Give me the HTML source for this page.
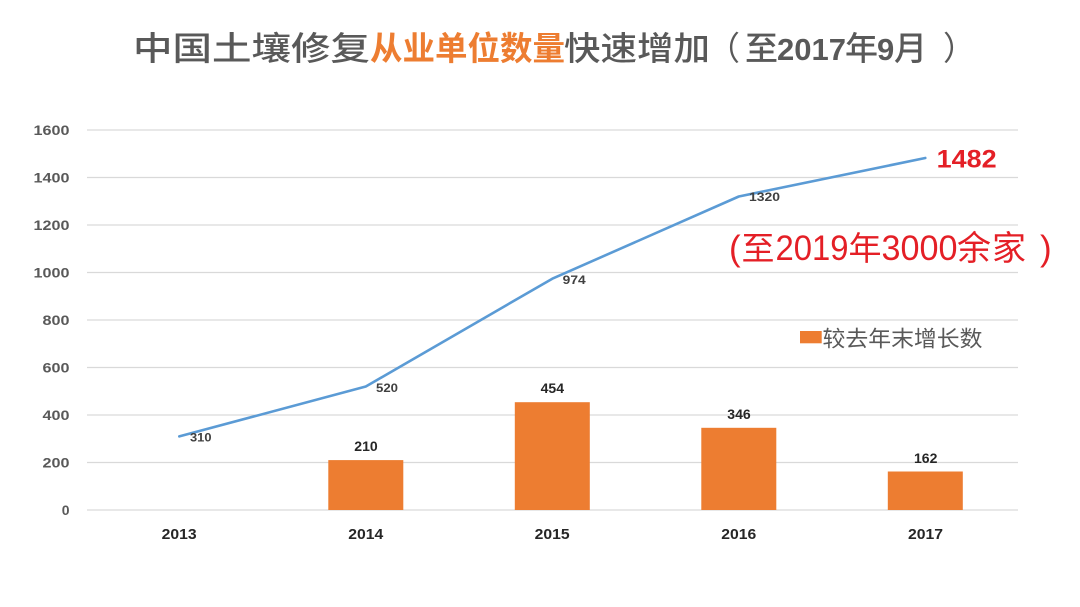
<!DOCTYPE html>
<html>
<head>
<meta charset="utf-8">
<style>
  html, body { margin: 0; padding: 0; background: #ffffff; overflow: hidden; }
  svg { display: block; }
  .cjk { font-family: "Noto Sans CJK SC", "WenQuanYi Zen Hei", sans-serif; }
  .lat { font-family: "Liberation Sans", "Noto Sans CJK SC", sans-serif; }
</style>
</head>
<body>
<svg width="1080" height="607" viewBox="0 0 1080 607" xmlns="http://www.w3.org/2000/svg">
  <rect x="0" y="0" width="1080" height="607" fill="#ffffff"/>

  <!-- Title -->
  <text class="cjk" x="133" y="60" font-size="33" font-weight="500" fill="#595959" textLength="237" lengthAdjust="spacingAndGlyphs">中国土壤修复</text>
  <text class="cjk" x="370" y="60" font-size="33" font-weight="bold" fill="#ED7D31" textLength="195" lengthAdjust="spacingAndGlyphs">从业单位数量</text>
  <text class="cjk" x="564" y="60" font-size="33" font-weight="500" fill="#595959" textLength="146" lengthAdjust="spacingAndGlyphs">快速增加</text>
  <text class="cjk" x="707" y="60" font-size="33" fill="#595959">（</text>
  <text class="cjk" x="745" y="60" font-size="33" font-weight="500" fill="#595959">至</text>
  <text class="lat" x="777" y="60" font-size="31" font-weight="bold" fill="#595959" textLength="69" lengthAdjust="spacingAndGlyphs">2017</text>
  <text class="cjk" x="845" y="60" font-size="33" font-weight="500" fill="#595959">年</text>
  <text class="lat" x="877" y="60" font-size="31" font-weight="bold" fill="#595959">9</text>
  <text class="cjk" x="894" y="60" font-size="33" font-weight="500" fill="#595959">月</text>
  <text class="cjk" x="943" y="60" font-size="33" fill="#595959">）</text>

  <!-- Gridlines -->
  <g stroke="#d9d9d9" stroke-width="1.2">
    <line x1="87" y1="130" x2="1018" y2="130"/>
    <line x1="87" y1="177.5" x2="1018" y2="177.5"/>
    <line x1="87" y1="225" x2="1018" y2="225"/>
    <line x1="87" y1="272.5" x2="1018" y2="272.5"/>
    <line x1="87" y1="320" x2="1018" y2="320"/>
    <line x1="87" y1="367.5" x2="1018" y2="367.5"/>
    <line x1="87" y1="415" x2="1018" y2="415"/>
    <line x1="87" y1="462.5" x2="1018" y2="462.5"/>
    <line x1="87" y1="510" x2="1018" y2="510"/>
  </g>

  <!-- Y axis labels -->
  <g class="lat" font-size="14" font-weight="bold" fill="#595959" text-anchor="end">
    <text x="69.5" y="135" textLength="36" lengthAdjust="spacingAndGlyphs">1600</text>
    <text x="69.5" y="182.5" textLength="36" lengthAdjust="spacingAndGlyphs">1400</text>
    <text x="69.5" y="230" textLength="36" lengthAdjust="spacingAndGlyphs">1200</text>
    <text x="69.5" y="277.5" textLength="36" lengthAdjust="spacingAndGlyphs">1000</text>
    <text x="69.5" y="325" textLength="27" lengthAdjust="spacingAndGlyphs">800</text>
    <text x="69.5" y="372.5" textLength="27" lengthAdjust="spacingAndGlyphs">600</text>
    <text x="69.5" y="420" textLength="27" lengthAdjust="spacingAndGlyphs">400</text>
    <text x="69.5" y="467.5" textLength="27" lengthAdjust="spacingAndGlyphs">200</text>
    <text x="69.5" y="515">0</text>
  </g>

  <!-- Bars -->
  <g fill="#ED7D31">
    <rect x="328.3" y="460.1" width="75" height="49.9"/>
    <rect x="514.8" y="402.2" width="75" height="107.8"/>
    <rect x="701.3" y="427.8" width="75" height="82.2"/>
    <rect x="887.8" y="471.5" width="75" height="38.5"/>
  </g>

  <!-- Bar labels -->
  <g class="lat" font-size="14" font-weight="bold" fill="#262626" text-anchor="middle">
    <text x="366" y="451" textLength="23.4" lengthAdjust="spacingAndGlyphs">210</text>
    <text x="552.3" y="393" textLength="23.4" lengthAdjust="spacingAndGlyphs">454</text>
    <text x="739" y="419" textLength="23.4" lengthAdjust="spacingAndGlyphs">346</text>
    <text x="925.7" y="463" textLength="23.4" lengthAdjust="spacingAndGlyphs">162</text>
  </g>

  <!-- Line -->
  <polyline points="179.3,436.4 365.8,386.5 552.3,278.7 738.8,196.5 925.3,158" fill="none" stroke="#5B9BD5" stroke-width="2.6" stroke-linejoin="round" stroke-linecap="round"/>

  <!-- Line labels -->
  <g class="lat" font-size="12" font-weight="bold" fill="#404040">
    <text x="190" y="441.5" textLength="21.5" lengthAdjust="spacingAndGlyphs">310</text>
    <text x="376" y="392" textLength="22" lengthAdjust="spacingAndGlyphs">520</text>
    <text x="562.7" y="284" textLength="23" lengthAdjust="spacingAndGlyphs">974</text>
    <text x="749" y="201" textLength="31" lengthAdjust="spacingAndGlyphs">1320</text>
  </g>

  <!-- X axis labels -->
  <g class="lat" font-size="15" font-weight="bold" fill="#262626" text-anchor="middle">
    <text x="179.2" y="539" textLength="35" lengthAdjust="spacingAndGlyphs">2013</text>
    <text x="365.8" y="539" textLength="35" lengthAdjust="spacingAndGlyphs">2014</text>
    <text x="552.2" y="539" textLength="35" lengthAdjust="spacingAndGlyphs">2015</text>
    <text x="738.8" y="539" textLength="35" lengthAdjust="spacingAndGlyphs">2016</text>
    <text x="925.5" y="539" textLength="35" lengthAdjust="spacingAndGlyphs">2017</text>
  </g>

  <!-- 1482 annotation -->
  <text class="lat" x="936.7" y="167.5" font-size="25" font-weight="bold" fill="#E41F26" textLength="60" lengthAdjust="spacingAndGlyphs">1482</text>

  <!-- (至2019年3000余家 ) -->
  <g fill="#E41F26">
    <text class="lat" x="729" y="260" font-size="35">(</text>
    <text class="cjk" x="741.5" y="260" font-size="33">至</text>
    <text class="lat" x="775.5" y="260" font-size="35" textLength="73" lengthAdjust="spacingAndGlyphs">2019</text>
    <text class="cjk" x="848.5" y="260" font-size="33">年</text>
    <text class="lat" x="881.5" y="260" font-size="35" textLength="76" lengthAdjust="spacingAndGlyphs">3000</text>
    <text class="cjk" x="957" y="260" font-size="34">余</text>
    <text class="cjk" x="992" y="260" font-size="34">家</text>
    <text class="lat" x="1040" y="260" font-size="35">)</text>
  </g>

  <!-- Legend -->
  <rect x="800" y="331" width="21.7" height="12.3" fill="#ED7D31"/>
  <text class="cjk" x="822.5" y="346.5" font-size="22" fill="#595959" textLength="160" lengthAdjust="spacingAndGlyphs">较去年末增长数</text>
</svg>
</body>
</html>
